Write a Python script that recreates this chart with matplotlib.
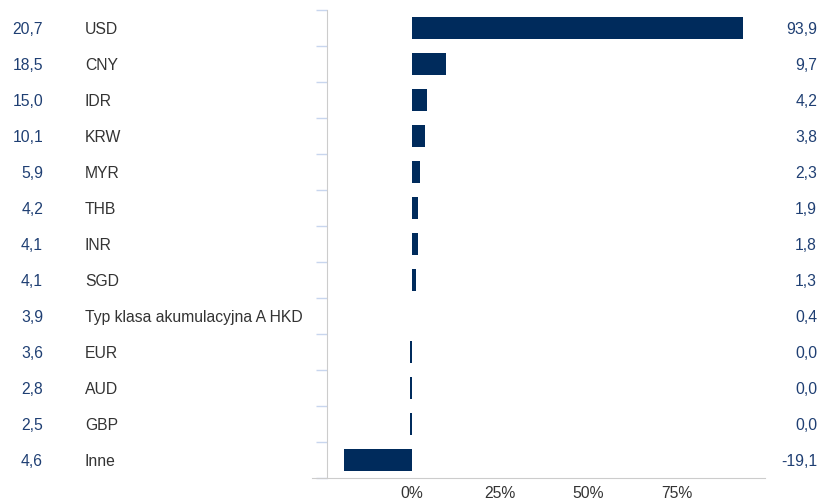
import numpy as np
import matplotlib.pyplot as plt

plt.rcParams['font.family'] = ['Liberation Sans', 'DejaVu Sans']

# data
categories = ['USD', 'CNY', 'IDR', 'KRW', 'MYR', 'THB', 'INR', 'SGD',
              'Typ klasa akumulacyjna A HKD', 'EUR', 'AUD', 'GBP', 'Inne']
left_values = [20.7, 18.5, 15.0, 10.1, 5.9, 4.2, 4.1, 4.1, 3.9, 3.6, 2.8, 2.5, 4.6]
right_labels = ['93,9', '9,7', '4,2', '3,8', '2,3', '1,9', '1,8', '1,3',
                '0,4', '0,0', '0,0', '0,0', '-19,1']
bar_values = [93.9, 9.7, 4.2, 3.8, 2.3, 1.9, 1.8, 1.3, 0.0, -0.4, -0.4, -0.4, -19.1]
xticks = [0, 25, 50, 75]

navy = '#002b5c'
blue_txt = '#1f3f73'
gray_txt = '#333333'
fs = 11.3

fig = plt.figure(figsize=(8.27, 5.03), dpi=100)
W, H = 827, 503
ax = fig.add_axes([327 / W, 1 - 478 / H, (765 - 327) / W, (478 - 10) / H])

n = len(categories)
y = np.arange(n)
ax.barh(y, bar_values, height=0.6, color=navy)
ax.set_ylim(n - 0.5, -0.5)
ax.set_xlim(-24, 100)

ax.set_xticks(xticks)
ax.set_xticklabels([f'{t}%' for t in xticks], fontsize=fs, color=gray_txt)
ax.tick_params(axis='x', length=0, pad=6)

# row separators as short ticks on the left
ax.set_yticks(np.arange(n + 1) - 0.5)
ax.set_yticklabels([])
ax.tick_params(axis='y', length=8, color='#c8d6ee', width=1)

for s in ['top', 'right']:
    ax.spines[s].set_visible(False)
ax.spines['left'].set_color('#cccccc')
ax.spines['bottom'].set_color('#cccccc')
ax.spines['bottom'].set_bounds(-24 - 15 / 3.53, 100)

for i in range(n):
    ax.annotate(f'{left_values[i]:.1f}'.replace('.', ','), xy=(43 / W, y[i]),
                xycoords=('figure fraction', 'data'), ha='right', va='center_baseline',
                fontsize=fs, color=blue_txt, annotation_clip=False)
    ax.annotate(categories[i], xy=(85 / W, y[i]),
                xycoords=('figure fraction', 'data'), ha='left', va='center_baseline',
                fontsize=fs, color=gray_txt, annotation_clip=False)
    ax.annotate(right_labels[i], xy=(817 / W, y[i]),
                xycoords=('figure fraction', 'data'), ha='right', va='center_baseline',
                fontsize=fs, color=blue_txt, annotation_clip=False)

fig.savefig('out.png', dpi=100)
